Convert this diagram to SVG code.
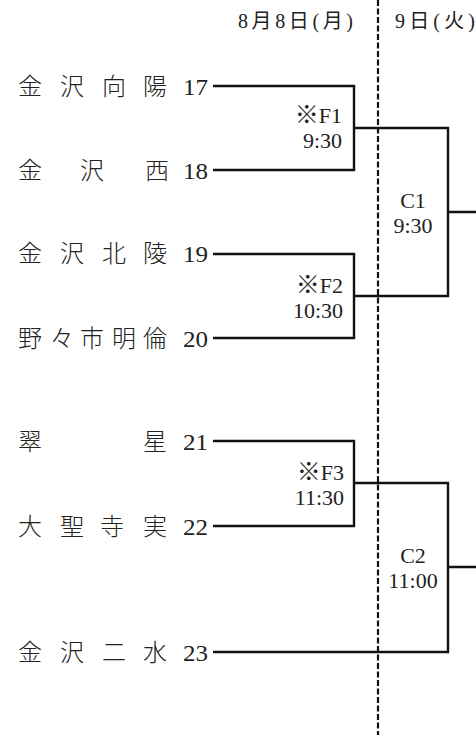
<svg xmlns="http://www.w3.org/2000/svg" width="476" height="735" viewBox="0 0 476 735">
<style>
.nm{font-family:"Noto Sans CJK JP","Noto Sans CJK SC",sans-serif;font-size:24px;font-weight:300;fill:#222}
.no{font-family:"Liberation Serif","Times New Roman",serif;font-size:23px;fill:#222}
.lb{font-family:"Liberation Serif","Noto Sans CJK JP",serif;font-size:22px;fill:#222}
.km{font-family:"Noto Sans CJK JP",sans-serif;font-size:24px;font-weight:300}
.hd{font-family:"Liberation Serif","Noto Sans CJK JP",serif;font-size:20px;fill:#222}
.ln{fill:none;stroke:#111;stroke-width:2.4}
.dash{fill:none;stroke:#111;stroke-width:2.2;stroke-dasharray:6 2.5}
</style>
<rect width="476" height="735" fill="#fff"/>
<g id="header">
<text class="hd" x="238" y="28" textLength="115" lengthAdjust="spacing">8月8日(月)</text>
<text class="hd" x="395" y="28" textLength="80" lengthAdjust="spacing">9日(火)</text>
</g>
<g id="divider"><line class="dash" x1="378" y1="0" x2="378" y2="735"/></g>
<g id="team17"><text class="nm" x="18 60 102 143" y="95">金沢向陽</text><text class="no" x="183" y="95" textLength="25" lengthAdjust="spacingAndGlyphs">17</text></g>
<g id="team18"><text class="nm" x="18 80 145" y="179">金沢西</text><text class="no" x="183" y="179" textLength="25" lengthAdjust="spacingAndGlyphs">18</text></g>
<g id="team19"><text class="nm" x="18 60 102 143" y="262">金沢北陵</text><text class="no" x="183" y="262" textLength="25" lengthAdjust="spacingAndGlyphs">19</text></g>
<g id="team20"><text class="nm" x="18 50 80 112 143" y="347">野々市明倫</text><text class="no" x="183" y="347" textLength="25" lengthAdjust="spacingAndGlyphs">20</text></g>
<g id="team21"><text class="nm" x="18 143" y="450">翠星</text><text class="no" x="183" y="450" textLength="25" lengthAdjust="spacingAndGlyphs">21</text></g>
<g id="team22"><text class="nm" x="18 60 100 143" y="535">大聖寺実</text><text class="no" x="183" y="535" textLength="25" lengthAdjust="spacingAndGlyphs">22</text></g>
<g id="team23"><text class="nm" x="18 60 102 143" y="661">金沢二水</text><text class="no" x="183" y="661" textLength="25" lengthAdjust="spacingAndGlyphs">23</text></g>
<g id="F1"><text class="lb" x="342" y="122.5" text-anchor="end"><tspan class="km">※</tspan>F1</text><text class="lb" x="342" y="147.5" text-anchor="end">9:30</text></g>
<g id="F2"><text class="lb" x="343" y="292.5" text-anchor="end"><tspan class="km">※</tspan>F2</text><text class="lb" x="343" y="317.5" text-anchor="end">10:30</text></g>
<g id="F3"><text class="lb" x="344" y="479.5" text-anchor="end"><tspan class="km">※</tspan>F3</text><text class="lb" x="344" y="504.5" text-anchor="end">11:30</text></g>
<g id="C1"><text class="lb" x="413" y="207.5" text-anchor="middle">C1</text><text class="lb" x="413" y="232.5" text-anchor="middle">9:30</text></g>
<g id="C2"><text class="lb" x="413" y="562.5" text-anchor="middle">C2</text><text class="lb" x="413" y="587.5" text-anchor="middle">11:00</text></g>
<g id="connectors">
<path class="ln" d="M213 86H354V170H213M354 128H448V296H354M213 254H354V338H213M448 212H476"/>
<path class="ln" d="M213 441H354V526H213M354 483H448V652H213M448 567H476"/>
</g>
</svg>
